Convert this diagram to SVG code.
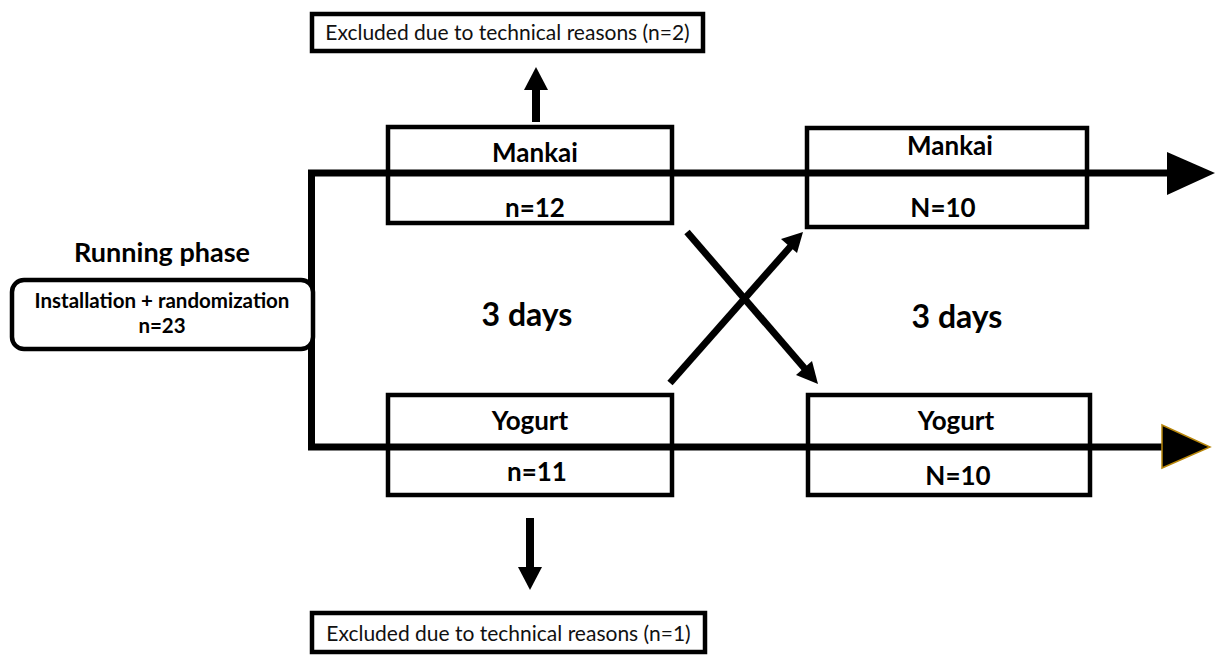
<svg xmlns="http://www.w3.org/2000/svg" width="1216" height="655" viewBox="0 0 1216 655">
<style>
.box{fill:#fff;stroke:#000;stroke-width:4.5}
.ln{fill:none;stroke:#000;stroke-width:7}
.b{font-family:Lato,"Liberation Sans",sans-serif;font-weight:bold;fill:#000;text-anchor:middle}
.r{font-family:Lato,"Liberation Sans",sans-serif;fill:#111;text-anchor:middle;font-size:21px}
</style>
<rect width="1216" height="655" fill="#fff"/>
<g id="connectors">
<polyline class="ln" points="1170,173 311.5,173 311.5,447 1165,447"/>
<polygon points="1167,152 1215,173 1167,195" fill="#000"/>
<polygon points="1162,425 1210,447 1162,468" fill="#000" stroke="#b8860b" stroke-width="1.5"/>
<line x1="536" y1="122" x2="536" y2="90" stroke="#000" stroke-width="8"/>
<polygon points="524,90 536,67 548,90" fill="#000"/>
<line x1="530" y1="518" x2="530" y2="567" stroke="#000" stroke-width="8"/>
<polygon points="518,567 530,590 542,567" fill="#000"/>
<line x1="687" y1="232" x2="806" y2="370" stroke="#000" stroke-width="7"/>
<polygon points="818,384 796,375 812,361" fill="#000"/>
<line x1="670" y1="383" x2="791" y2="246" stroke="#000" stroke-width="7"/>
<polygon points="803,232 797,253 781,239" fill="#000"/>
</g>
<g id="excluded-top">
<rect class="box" x="312" y="14" width="391" height="37"/>
<text class="r" x="507.5" y="40">Excluded due to technical reasons (n=2)</text>
</g>
<g id="running-phase">
<text class="b" x="162" y="262" font-size="27">Running phase</text>
</g>
<g id="installation">
<rect class="box" x="12" y="280" width="301" height="69" rx="12" ry="12"/>
<text class="b" x="162" y="308" font-size="20.5">Installation + randomization</text>
<text class="b" x="162" y="333" font-size="20.5">n=23</text>
</g>
<g id="mankai-1">
<rect class="box" x="388" y="127" width="284" height="96" style="fill:none"/>
<text class="b" x="535" y="162" font-size="26">Mankai</text>
<text class="b" x="535" y="217" font-size="26">n=12</text>
</g>
<g id="yogurt-1">
<rect class="box" x="388" y="395" width="284" height="100" style="fill:none"/>
<text class="b" x="530" y="430" font-size="26">Yogurt</text>
<text class="b" x="537" y="481" font-size="26">n=11</text>
</g>
<g id="mankai-2">
<rect class="box" x="807" y="128" width="280" height="99" style="fill:none"/>
<text class="b" x="950" y="155" font-size="26">Mankai</text>
<text class="b" x="943" y="217" font-size="26">N=10</text>
</g>
<g id="yogurt-2">
<rect class="box" x="808" y="395" width="282" height="100" style="fill:none"/>
<text class="b" x="956" y="430" font-size="26">Yogurt</text>
<text class="b" x="958" y="485" font-size="26">N=10</text>
</g>
<g id="days-1">
<text class="b" x="527" y="326" font-size="32">3 days</text>
</g>
<g id="days-2">
<text class="b" x="957" y="328" font-size="32">3 days</text>
</g>
<g id="excluded-bottom">
<rect class="box" x="312" y="613" width="393" height="39"/>
<text class="r" x="508.5" y="641">Excluded due to technical reasons (n=1)</text>
</g>
</svg>
